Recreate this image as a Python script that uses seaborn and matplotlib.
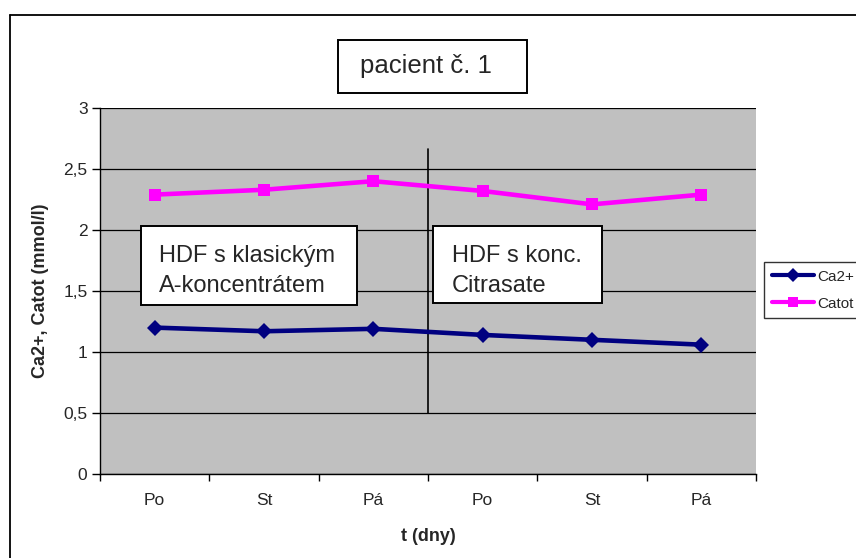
import matplotlib
matplotlib.use("Agg")
import matplotlib.pyplot as plt
import seaborn as sns
import pandas as pd
from matplotlib.lines import Line2D
from matplotlib.patches import Rectangle

days = ["Po", "St", "Pá", "Po", "St", "Pá"]
ca2 = [1.20, 1.17, 1.19, 1.14, 1.10, 1.06]
catot = [2.29, 2.33, 2.40, 2.32, 2.21, 2.29]
yticks = [0, 0.5, 1, 1.5, 2, 2.5, 3]
ytick_labels = ["0", "0,5", "1", "1,5", "2", "2,5", "3"]

sns.set_style("white")
plt.rcParams["font.family"] = ["Liberation Sans", "DejaVu Sans"]

W, H = 856, 558
fig = plt.figure(figsize=(W / 100, H / 100), dpi=100)


def fx(px):
    return px / W


def fy(py):
    return 1 - py / H


ax = fig.add_axes([fx(100), fy(474), 656 / W, 366 / H])
ax.set_facecolor("#C0C0C0")

pos = list(range(len(days)))
df = pd.DataFrame({"x": pos * 2, "y": ca2 + catot,
                   "s": ["Ca2+"] * len(days) + ["Catot"] * len(days)})
sns.lineplot(data=df, x="x", y="y", hue="s", style="s",
             palette={"Ca2+": "#000080", "Catot": "#FF00FF"},
             markers={"Ca2+": "D", "Catot": "s"}, dashes=False,
             markersize=8.5, linewidth=3.3, markeredgewidth=0,
             legend=False, ax=ax, zorder=3)

ax.set_xlim(-0.5, len(days) - 0.5)
ax.set_ylim(0, 3)
ax.set_yticks(yticks)
ax.set_yticklabels(ytick_labels, fontsize=12.5)
ax.set_xticks(pos)
ax.set_xticklabels(days, fontsize=12.5)
ax.set_xticks([p - 0.5 for p in pos] + [len(days) - 0.5], minor=True)
ax.tick_params(axis="x", which="major", length=0, pad=14)
ax.tick_params(axis="x", which="minor", length=5, width=1, direction="out", color="black", bottom=True)
ax.tick_params(axis="y", length=6, width=1, direction="out", color="black", left=True, pad=3)
ax.grid(axis="y", color="black", linewidth=0.9)
ax.set_axisbelow(True)
for s in ["top", "right"]:
    ax.spines[s].set_visible(False)
for s in ["left", "bottom"]:
    ax.spines[s].set_color("black")
    ax.spines[s].set_linewidth(1)

ax.set_xlabel("t (dny)", fontsize=13, fontweight="bold", labelpad=14)
ax.set_ylabel("Ca2+, Catot (mmol/l)", fontsize=13, fontweight="bold", labelpad=10)

# separator between the two therapy periods
ax.plot([2.5, 2.5], [0.5, 2.66], color="black", linewidth=1.2, zorder=2)


def box(x0, y0, x1, y1):
    fig.add_artist(Rectangle((fx(x0), fy(y1)), (x1 - x0) / W, (y1 - y0) / H,
                             transform=fig.transFigure, facecolor="white",
                             edgecolor="black", linewidth=1.4, zorder=5))


def label(x, y, s, size):
    fig.text(fx(x), fy(y), s, fontsize=size, ha="left", va="baseline", zorder=6)


box(141, 226, 357, 305)
label(159, 262, "HDF s klasickým", 17)
label(159, 292, "A-koncentrátem", 17)

box(433, 226, 602, 303)
label(452, 262, "HDF s konc.", 17)
label(452, 292, "Citrasate", 17)

box(338, 40, 527, 93)
label(360, 73, "pacient č. 1", 18.5)

# outer frame (left and top edges visible)
fig.add_artist(Line2D([fx(10), fx(10)], [0, fy(15)], color="black", linewidth=1.3, transform=fig.transFigure))
fig.add_artist(Line2D([fx(10), 1], [fy(15), fy(15)], color="black", linewidth=1.3, transform=fig.transFigure))

handles = [Line2D([], [], color="#000080", marker="D", markersize=7, linewidth=3, markeredgewidth=0),
           Line2D([], [], color="#FF00FF", marker="s", markersize=7, linewidth=3, markeredgewidth=0)]
leg = fig.legend(handles, ["Ca2+", "Catot"], loc="upper left",
                 bbox_to_anchor=(fx(764), fy(262)), fontsize=11, frameon=True,
                 fancybox=False, edgecolor="black", handlelength=2.8, handletextpad=0.2,
                 borderpad=0.5, labelspacing=0.85, borderaxespad=0)
leg.get_frame().set_linewidth(1)

fig.savefig("out.png", dpi=100)
